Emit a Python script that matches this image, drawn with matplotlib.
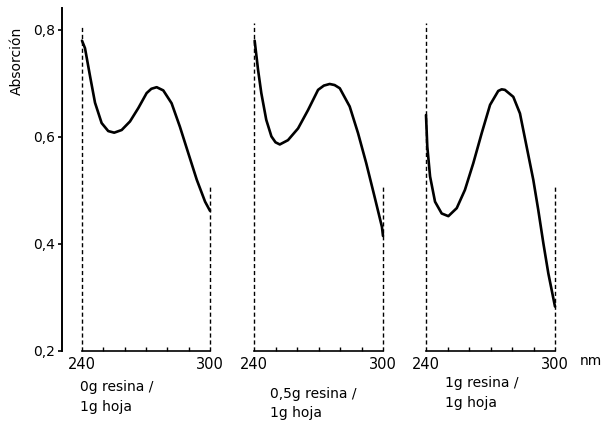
import matplotlib
matplotlib.use("Agg")
import matplotlib.pyplot as plt
from matplotlib.ticker import MultipleLocator

# wavelength (nm) / absorbance
wl_0 = [240, 241.4, 243.8, 246.1, 249.2, 252.3, 255.1, 258.6, 262.5, 266.4, 270.3,
        272.5, 275.0, 278.1, 282.0, 285.9, 289.8, 293.8, 297.7, 300]
abs_0 = [0.78, 0.766, 0.713, 0.664, 0.626, 0.611, 0.608, 0.613, 0.629, 0.654, 0.682,
         0.690, 0.693, 0.687, 0.663, 0.619, 0.570, 0.520, 0.479, 0.462]

wl_05 = [240.3, 241.9, 243.4, 245.7, 248.1, 250.0, 252.0, 255.8, 260.5, 265.1, 269.8,
         272.5, 275.2, 277.5, 279.9, 284.5, 288.4, 292.2, 296.1, 299.5, 300]
abs_05 = [0.78, 0.725, 0.682, 0.632, 0.601, 0.590, 0.586, 0.594, 0.616, 0.650, 0.688,
          0.696, 0.699, 0.697, 0.691, 0.657, 0.607, 0.551, 0.488, 0.432, 0.415]

wl_1 = [240, 240.6, 241.9, 244.2, 247.3, 250.4, 254.3, 258.1, 262.0, 265.9, 269.8,
        273.6, 275.2, 276.7, 280.6, 283.7, 286.8, 289.9, 292.2, 294.6, 296.9, 300]
abs_1 = [0.641, 0.582, 0.526, 0.479, 0.457, 0.452, 0.467, 0.501, 0.551, 0.607, 0.660,
         0.686, 0.689, 0.688, 0.675, 0.644, 0.582, 0.520, 0.464, 0.401, 0.345, 0.283]

panel_labels = ["0g resina /\n1g hoja", "0,5g resina /\n1g hoja", "1g resina /\n1g hoja"]
y_ticks = [0.2, 0.4, 0.6, 0.8]
y_tick_labels = ["0,2", "0,4", "0,6", "0,8"]
dash_left_top = [0.809, 0.813, 0.813]
dash_right_top = [0.507, 0.507, 0.507]

W, H = 616, 430
fig = plt.figure(figsize=(W / 100, H / 100), dpi=100)

ymin, ymax = 0.2, 0.841
bottom = (H - 351) / H
height = (351 - 8) / H

# y axis alone, drawn as its own thin axes
ay = fig.add_axes([62 / W, bottom, 0.0005, height])
ay.set_ylim(ymin, ymax)
for s in ["top", "right", "bottom"]:
    ay.spines[s].set_visible(False)
ay.spines["left"].set_linewidth(1.4)
ay.set_xticks([])
ay.set_yticks(y_ticks)
ay.set_yticklabels(y_tick_labels, fontsize=10)
ay.tick_params(axis="y", direction="out", length=3, width=1.2, pad=2)
fig.text(17 / W, 1 - 61 / H, "Absorción", rotation=90, ha="center", va="center", fontsize=10)

lefts = [82, 254, 426]
widths = [128, 129, 129]
series = [(wl_0, abs_0), (wl_05, abs_05), (wl_1, abs_1)]
lab_pos = [(80, 380), (270, 387), (445, 376)]

for i, (x, y) in enumerate(series):
    ax = fig.add_axes([lefts[i] / W, bottom, widths[i] / W, height])
    ax.set_xlim(240, 300)
    ax.set_ylim(ymin, ymax)
    for s in ["top", "right", "left"]:
        ax.spines[s].set_visible(False)
    ax.spines["bottom"].set_linewidth(1.2)
    ax.set_yticks([])
    ax.set_xticks([240, 300])
    ax.set_xticklabels(["240", "300"], fontsize=10.5)
    ax.xaxis.set_minor_locator(MultipleLocator(10))
    ax.tick_params(axis="x", which="major", length=0, pad=4)
    ax.tick_params(axis="x", which="minor", direction="in", length=3, width=1)
    ax.plot([240, 240], [ymin, dash_left_top[i]], color="black", lw=1,
            ls=(0, (3, 2)), clip_on=False)
    ax.plot([300, 300], [ymin, dash_right_top[i]], color="black", lw=1,
            ls=(0, (3, 2)), clip_on=False)
    ax.plot(x, y, color="black", lw=1.9, clip_on=False,
            solid_capstyle="round", solid_joinstyle="round")
    fig.text(lab_pos[i][0] / W, 1 - lab_pos[i][1] / H, panel_labels[i],
             ha="left", va="top", fontsize=10, linespacing=1.5)

fig.text(580 / W, 1 - 361 / H, "nm", ha="left", va="center", fontsize=10)

fig.savefig("out.png", dpi=100)
